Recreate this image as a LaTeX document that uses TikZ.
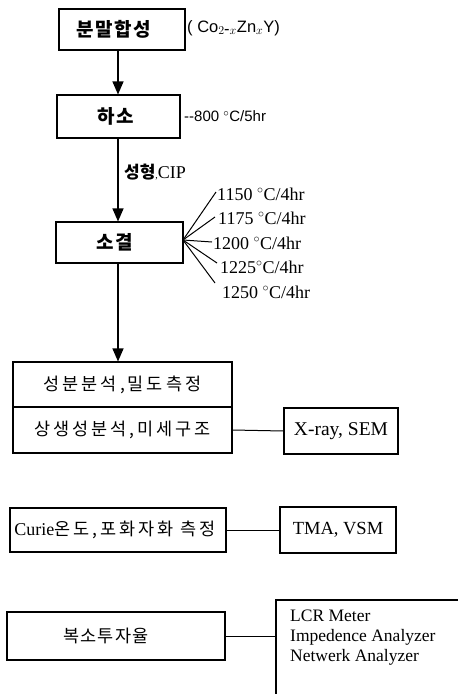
\documentclass[tikz,border=0pt]{standalone}
\usepackage{fontspec}
\setmainfont{Liberation Serif}
\newfontfamily\kr{Noto Sans CJK KR}
\newfontfamily\krb{Noto Sans CJK KR}[LetterSpace=8]
\newfontfamily\krw{Noto Sans CJK KR}[LetterSpace=17]
\newfontfamily\sansf{Liberation Sans}
\usetikzlibrary{arrows.meta}
\begin{document}
\begin{tikzpicture}[x=1pt,y=-1pt,
  box/.style={draw,line width=1.1pt,inner sep=0pt,rectangle},
  kb/.style={font=\krb\bfseries\fontsize{19}{21}\selectfont},
  kr/.style={font=\krw\fontsize{17.5}{20}\selectfont},
  tl/.style={font=\fontsize{18}{20}\selectfont,anchor=west,inner sep=0pt},
  sl/.style={font=\sansf\fontsize{15}{17}\selectfont,anchor=west,inner sep=0pt},
  arr/.style={line width=1.1pt,-{Triangle[length=13pt,width=11pt]}},
  ln/.style={line width=1pt}]
\clip (0,0) rectangle (458,694);
\useasboundingbox (0,0) rectangle (458,694);
\coordinate (ax) at (118,0);
\node[box,kb,minimum width=126pt,minimum height=41pt] (b1) at (122,29.5) {분말합성\hspace*{16pt}};
\node[box,kb,minimum width=123pt,minimum height=43pt] (b2) at (118.5,116.5) {하소\hspace*{5pt}};
\node[box,kb,minimum width=127pt,minimum height=41pt] (b3) at (119.5,242.5) {소결\hspace*{10pt}};
\node[box,kr,minimum width=219pt,minimum height=45pt] (b4a) at (122.5,384.5) {성분분석,밀도측정};
\node[box,kr,minimum width=219pt,minimum height=46pt] (b4b) at (122.5,430) {상생성분석,미세구조};
\node[box,font=\fontsize{19.5}{21}\selectfont,minimum width=114pt,minimum height=46pt] (xr) at (341,431) {X-ray, SEM};
\node[box,kr,minimum width=216pt,minimum height=44pt] (b5) at (118,530) {{\fontspec{Liberation Serif}\fontsize{18}{20}\selectfont Curie}온도,포화자화 측정\hspace*{6pt}};
\node[box,font=\fontsize{18.5}{20}\selectfont,minimum width=116pt,minimum height=46pt] (tma) at (338,530) {TMA, VSM};
\node[box,font=\kr\fontsize{17.5}{20}\selectfont,minimum width=218pt,minimum height=48pt] (b6) at (116,636) {\addfontfeature{LetterSpace=7}복소투자율\hspace*{20pt}};
\node[box,minimum width=194pt,minimum height=130pt] (lcr) at (373,665) {};
\node[align=left,anchor=north west,inner sep=0pt,font=\fontsize{17.5}{20}\selectfont] (lcrt) at (290,610) {LCR Meter\\Impedence Analyzer\\Netwerk Analyzer};
% side labels
\node[sl,font=\sansf\fontsize{16.5}{18}\selectfont] (f1) at (187,28) {( Co$_{2\mbox{-}x}$Zn$_x$Y)};
\node[sl] (f2) at (184,116) {--800 $^{\circ}$C/5hr};
\node[anchor=west,inner sep=0pt] (f3) at (124,172) {{\kr\bfseries\fontsize{17}{19}\selectfont 성형},{\fontsize{18}{20}\selectfont CIP}};
% arrows
\draw[arr] (b1.south -| ax) -- (b2.north -| ax);
\draw[arr] (b2.south -| ax) -- (b3.north -| ax);
\draw[arr] (b3.south -| ax) -- (b4a.north -| ax);
% fan
\coordinate (o) at (183,240);
\coordinate (e1) at (216,192);
\coordinate (e2) at (215,217);
\coordinate (e3) at (212,242);
\coordinate (e4) at (217,263);
\coordinate (e5) at (215,283);
\foreach \i in {1,...,5} \draw[ln] (o) -- (e\i);
\node[tl] (t1) at (217,194) {1150 $^{\circ}$C/4hr};
\node[tl] (t2) at (218,218) {1175 $^{\circ}$C/4hr};
\node[tl] (t3) at (213,243) {1200 $^{\circ}$C/4hr};
\node[tl] (t4) at (220,267) {1225$^{\circ}$C/4hr};
\node[tl] (t5) at (222,292) {1250 $^{\circ}$C/4hr};
% side connectors
\draw[ln] (b4b.east) -- (xr.west);
\draw[ln] (b5.east) -- (tma.west);
\draw[ln] (b6.east) -- (b6.east -| lcr.west);
\end{tikzpicture}
\end{document}
